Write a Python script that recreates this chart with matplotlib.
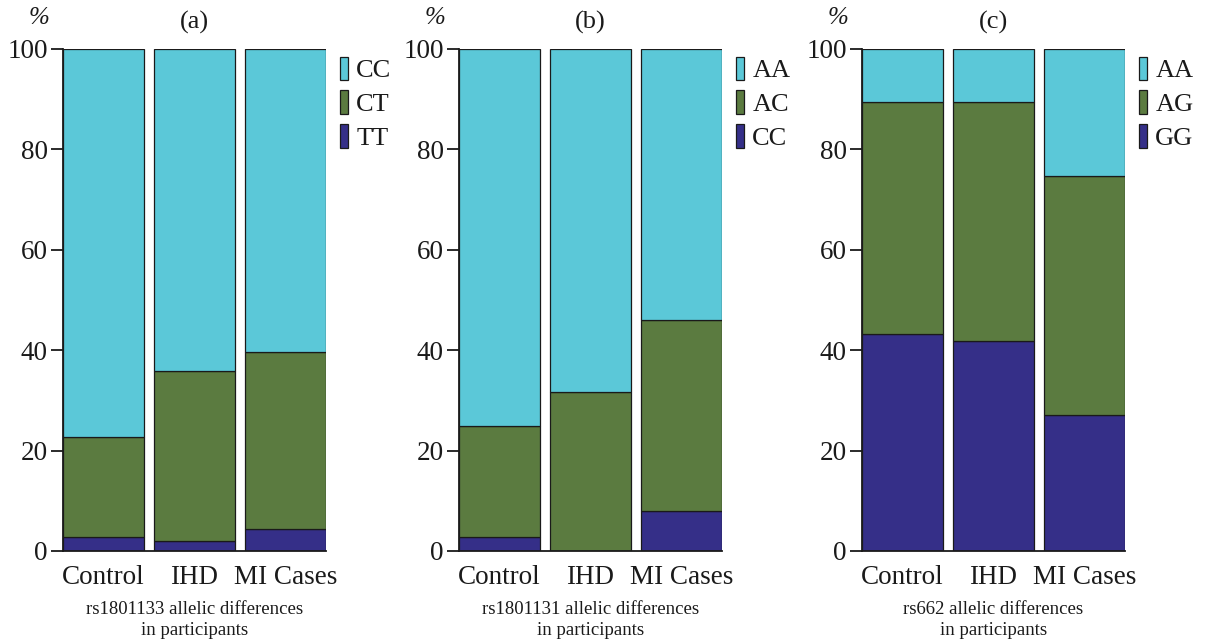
import matplotlib
matplotlib.use("Agg")
import matplotlib.pyplot as plt
from matplotlib.patches import Patch

groups = ["Control", "IHD", "MI Cases"]

# panel (a) rs1801133
a_labels = ["CC", "CT", "TT"]
a_TT = [2.8, 2.0, 4.4]
a_CT = [19.9, 33.9, 35.2]
a_CC = [77.3, 64.1, 60.4]

# panel (b) rs1801131
b_labels = ["AA", "AC", "CC"]
b_CC = [2.8, 0.0, 8.0]
b_AC = [22.1, 31.7, 38.0]
b_AA = [75.1, 68.3, 54.0]

# panel (c) rs662
c_labels = ["AA", "AG", "GG"]
c_GG = [43.2, 41.8, 27.1]
c_AG = [46.2, 47.6, 47.6]
c_AA = [10.6, 10.6, 25.3]

titles = ["(a)", "(b)", "(c)"]
xlabels = ["rs1801133 allelic differences\nin participants",
           "rs1801131 allelic differences\nin participants",
           "rs662 allelic differences\nin participants"]

col_top = "#5BC8D8"
col_mid = "#5B7B40"
col_bot = "#352F88"
txt = "#1a1a1a"

plt.rcParams['font.family'] = ['Liberation Serif', 'DejaVu Serif']

fig = plt.figure(figsize=(12.06, 6.42), dpi=100)
W, H = 1206, 642
lefts = [63, 459, 862]
aw = 263
top_px, bot_px = 49, 551

panels = [
    (a_labels, a_TT, a_CT, a_CC),
    (b_labels, b_CC, b_AC, b_AA),
    (c_labels, c_GG, c_AG, c_AA),
]

for i, (labs, bot, mid, topv) in enumerate(panels):
    ax = fig.add_axes([lefts[i] / W, 1 - bot_px / H, aw / W, (bot_px - top_px) / H])
    x = list(range(len(groups)))
    w = 0.89
    ec = "#1a1a1a"
    lw = 0.9
    ax.bar(x, bot, w, color=col_bot, edgecolor=ec, linewidth=lw)
    b2 = [bot[j] for j in x]
    ax.bar(x, mid, w, bottom=b2, color=col_mid, edgecolor=ec, linewidth=lw)
    b3 = [bot[j] + mid[j] for j in x]
    ax.bar(x, topv, w, bottom=b3, color=col_top, edgecolor=ec, linewidth=lw)
    ax.set_xlim(-w / 2, 2 + w / 2)
    ax.set_ylim(0, 100)
    ax.set_yticks([0, 20, 40, 60, 80, 100])
    ax.tick_params(axis='y', direction='out', length=9, width=1.3, colors=txt,
                   labelsize=19.5, pad=2)
    ax.tick_params(axis='x', length=0, labelsize=19.5, colors=txt, pad=10)
    ax.set_xticks(x)
    ax.set_xticklabels(groups)
    for s in ['top', 'right']:
        ax.spines[s].set_visible(False)
    for s in ['left', 'bottom']:
        ax.spines[s].set_linewidth(1.3)
        ax.spines[s].set_color(txt)
    ax.set_xlabel(xlabels[i], fontsize=13.5, color=txt, labelpad=8, linespacing=1.3)
    ax.set_title(titles[i], fontsize=19, color=txt, pad=15)
    ax.text(-0.09, 1.04, "%", transform=ax.transAxes, fontsize=18, color=txt,
            ha='center', va='bottom', style='italic')
    handles = [Patch(facecolor=col_top, edgecolor=ec, linewidth=0.9),
               Patch(facecolor=col_mid, edgecolor=ec, linewidth=0.9),
               Patch(facecolor=col_bot, edgecolor=ec, linewidth=0.9)]
    leg = ax.legend(handles, labs, loc='upper left', bbox_to_anchor=(1.055, 0.985),
                    frameon=False, fontsize=19, handlelength=0.3, handleheight=1.0,
                    handletextpad=0.3, labelspacing=0.3, borderaxespad=0,
                    borderpad=0)
    for t in leg.get_texts():
        t.set_color(txt)

fig.savefig("out.png", dpi=100)
